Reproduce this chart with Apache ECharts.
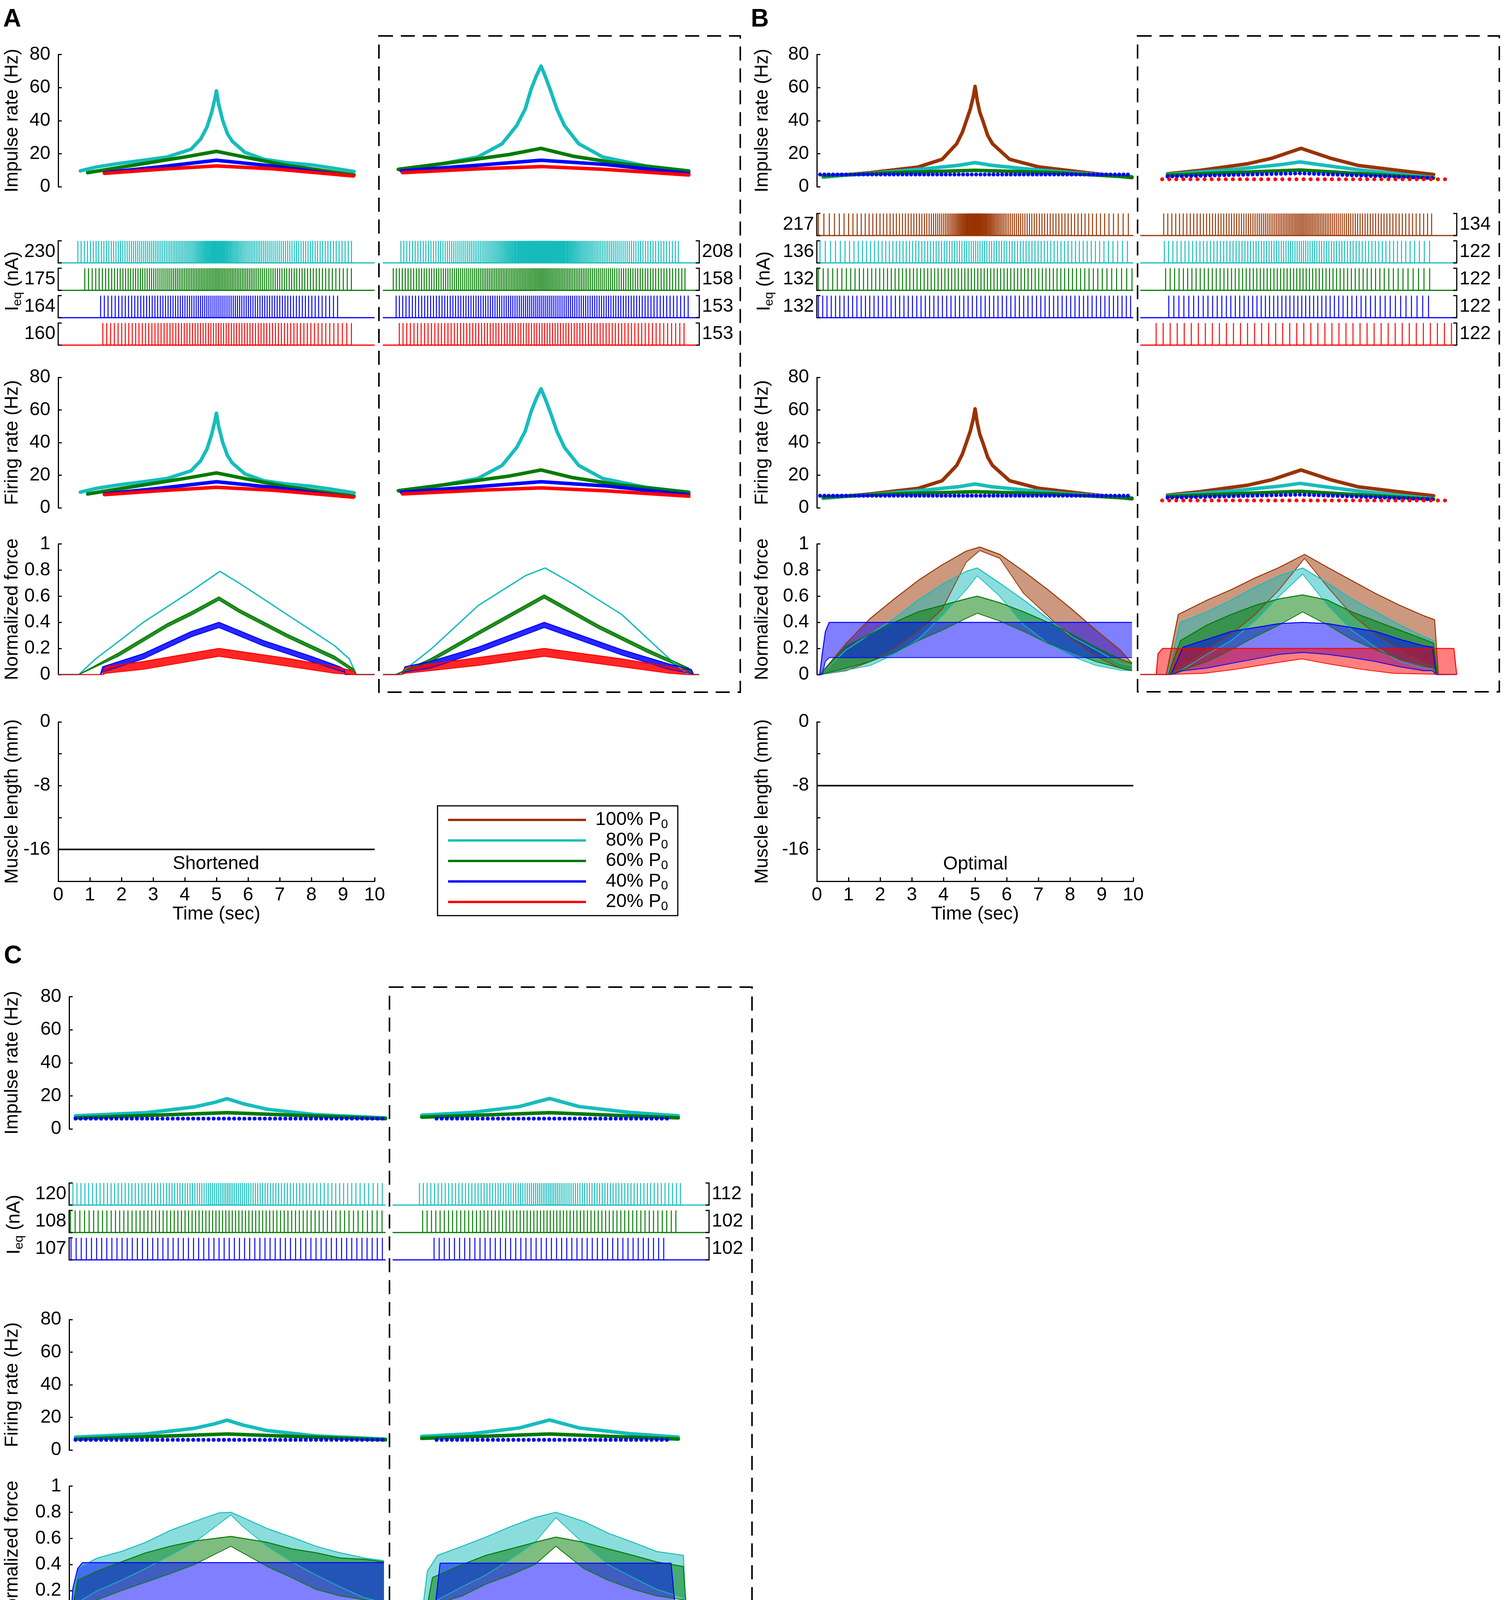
<!DOCTYPE html>
<html>
<head>
<meta charset="utf-8">
<script src="https://cdn.jsdelivr.net/npm/echarts/dist/echarts.min.js"></script>
<style>
html, body { margin: 0; padding: 0; background: #fff; }
#chart { width: 3850px; height: 4778px; }
</style>
</head>
<body>
<div id="chart"></div>
<script>
var FONT = '"Liberation Sans", Arial, Helvetica, sans-serif';
// 100%, 80%, 60%, 40%, 20% P0
var COLORS = ['#993300', '#17bcbc', '#007a00', '#0000ff', '#ff0000'];
var LEVELS = ['100%', '80%', '60%', '40%', '20%'];

// impulse / firing rate curves, [time (s), rate (Hz)]
var rateAL80 = [[0.7,9.6],[1.2,11.9],[1.9,14],[2.7,16],[3.45,18],[4.2,22.7],[4.5,28.8],[4.7,36],[4.85,45],[4.95,53],[5.0,58],[5.07,50],[5.2,40],[5.35,32],[5.5,27.5],[5.9,20.8],[6.5,16.6],[7.2,14.6],[8.0,13.2],[8.7,11.2],[9.35,9.2]];
var rateAL60 = [[0.93,8.5],[2.7,14],[4.0,18],[5.0,21.4],[6.0,17.5],[7.2,13],[8.3,10],[9.35,7.1]];
var rateAL40 = [[1.46,8.5],[3.2,12],[5.0,16],[6.8,12.5],[8.97,7.1]];
var rateAL20 = [[1.46,8.1],[3.2,10.5],[5.0,12.6],[6.8,10.8],[9.33,6.5]];
var rateAR80 = [[0.49,10.5],[1.5,12.6],[3.0,18],[3.77,26],[4.23,37],[4.5,47],[4.68,58.7],[4.85,67],[5.0,73],[5.15,66],[5.29,58.7],[5.5,47],[5.74,37],[6.19,26],[6.95,18],[8.3,12.6],[9.67,9.5]];
var rateAR60 = [[0.49,10.5],[2.5,15.5],[4.0,19.5],[5.0,23.2],[6.0,18.5],[7.5,14],[9.67,9.5]];
var rateAR40 = [[0.58,9.6],[3.0,13],[5.0,16],[7.0,13.5],[9.67,8.0]];
var rateAR20 = [[0.62,8.5],[3.0,10.8],[5.0,12.2],[7.0,10.5],[9.67,7.1]];

var rateBL100 = [[0.2,5.8],[1.69,8.5],[3.2,11.9],[3.96,16.6],[4.42,26],[4.6,33],[4.72,39.7],[4.85,47],[4.95,55],[5.0,60.7],[5.07,52],[5.15,45],[5.25,39.7],[5.4,31],[5.55,26],[6.09,16.6],[7.0,12],[8.52,8.5],[9.96,5.5]];
var rateBL80 = [[0.2,6],[2,8.5],[3.5,11],[4.5,13],[5.0,14.6],[5.5,13],[6.5,11],[8,8.5],[9.96,6]];
var rateBL60 = [[0.2,6.6],[2.5,8.5],[5.0,9.9],[7.5,8.5],[9.96,5.8]];
var rateBL40 = [[0.1,7.4],[9.96,7.4]];
var rateBR100 = [[0.86,7.8],[1.88,9.9],[3.4,13.9],[4.17,17.3],[5.08,23.2],[6.0,17.3],[6.9,12.8],[8.43,9.2],[9.27,7.4]];
var rateBR80 = [[0.86,7.4],[3.0,10.5],[4.5,13.5],[5.05,15],[5.6,13.5],[7.0,10],[9.27,5.5]];
var rateBR60 = [[0.86,7],[5.05,10.1],[9.27,5.2]];
var rateBR40 = [[0.86,6.2],[5.05,8.1],[9.27,5.2]];
var rateBR20 = [[0.69,4.5],[9.85,4.5]];

var rateCL80 = [[0.2,7.9],[2.42,9.8],[3.96,13.3],[4.57,15.9],[4.99,18.3],[5.49,15.3],[6.26,11.9],[7.8,8.6],[10.0,6.7]];
var rateCL60 = [[0.2,6.7],[5.0,9.8],[10,6.2]];
var rateCL40 = [[0.2,6.2],[10,6.2]];
var rateCR80 = [[0.92,8.3],[2.5,10],[4.0,13.5],[4.96,18.4],[5.9,13.5],[7.5,10],[9.03,7.9]];
var rateCR60 = [[0.92,7.1],[4.96,9.8],[9.03,6.7]];
var rateCR40 = [[1.39,6.2],[8.72,6.2]];

// normalized force, [time (s), upper envelope, lower envelope]
var forceAL80 = [[0,0,0],[0.65,0,0],[1.18,0.12,0.11],[1.94,0.26,0.25],[2.69,0.40,0.39],[3.45,0.52,0.51],[4.21,0.64,0.63],[4.81,0.74,0.73],[5.11,0.79,0.78],[5.72,0.70,0.69],[6.48,0.58,0.57],[7.23,0.46,0.45],[7.99,0.34,0.33],[8.74,0.22,0.21],[9.2,0.12,0.11],[9.42,0,0],[10,0,0]];
var forceAL60 = [[0,0,0],[0.65,0,0],[1.94,0.17,0.145],[3.45,0.39,0.365],[4.21,0.48,0.455],[5.08,0.595,0.57],[5.72,0.5,0.475],[7.23,0.31,0.285],[8.74,0.14,0.115],[9.35,0.04,0.02],[9.42,0,0],[10,0,0]];
var forceAL40 = [[0,0,0],[1.33,0,0],[1.41,0.06,0.02],[2.69,0.16,0.12],[4.21,0.33,0.29],[5.08,0.40,0.36],[6.48,0.26,0.22],[7.99,0.14,0.10],[8.9,0.06,0.03],[9.04,0.04,0.02],[9.07,0,0],[10,0,0]];
var forceAL20 = [[0,0,0],[1.41,0,0],[1.5,0.06,0.01],[2.69,0.10,0.04],[5.08,0.20,0.14],[7.23,0.125,0.065],[8.74,0.06,0.01],[9.3,0.03,0],[9.42,0,0],[10,0,0]];
var forceAR80 = [[0,0,0],[0.5,0,0],[1.5,0.19,0.18],[3.02,0.53,0.52],[4.53,0.76,0.75],[5.13,0.816,0.806],[6.04,0.69,0.68],[7.55,0.46,0.45],[9.06,0.12,0.11],[9.5,0.03,0.02],[9.67,0,0],[10,0,0]];
var forceAR60 = [[0,0,0],[0.4,0,0],[1.5,0.12,0.095],[3.02,0.33,0.305],[5.1,0.61,0.585],[6.8,0.38,0.355],[8.31,0.2,0.175],[9.67,0.05,0.03],[9.75,0,0],[10,0,0]];
var forceAR40 = [[0,0,0],[0.6,0,0],[0.7,0.06,0.02],[1.5,0.1,0.05],[3.02,0.21,0.17],[5.1,0.4,0.36],[7.55,0.19,0.15],[9.06,0.08,0.04],[9.75,0.04,0.01],[9.82,0,0],[10,0,0]];
var forceAR20 = [[0,0,0],[0.6,0,0],[0.7,0.05,0.01],[1.5,0.08,0.03],[3.02,0.13,0.07],[5.1,0.2,0.14],[7.55,0.12,0.06],[9.06,0.06,0.01],[9.6,0.03,0],[9.7,0,0],[10,0,0]];

var forceBL100 = [[0,0,0],[0.1,0,0],[0.93,0.24,0.03],[1.69,0.43,0.1],[2.45,0.58,0.2],[3.2,0.72,0.33],[3.96,0.84,0.5],[4.72,0.945,0.86],[5.15,0.976,0.95],[5.78,0.92,0.89],[6.54,0.79,0.62],[7.3,0.65,0.45],[8.06,0.5,0.27],[8.82,0.34,0.14],[9.58,0.19,0.05],[9.96,0.086,0.03]];
var forceBL80 = [[0,0,0],[0.1,0,0],[0.93,0.19,0.034],[1.69,0.31,0.07],[2.45,0.43,0.155],[3.2,0.57,0.27],[3.96,0.69,0.45],[4.72,0.79,0.65],[5.07,0.816,0.756],[5.78,0.7,0.6],[6.54,0.57,0.38],[7.3,0.43,0.24],[8.06,0.29,0.14],[8.82,0.19,0.07],[9.58,0.086,0.034],[9.96,0.07,0.03]];
var forceBL60 = [[0,0,0],[0.1,0,0],[0.93,0.22,0.05],[1.69,0.31,0.1],[2.45,0.4,0.17],[3.2,0.48,0.26],[3.96,0.53,0.34],[4.72,0.58,0.43],[5.07,0.6,0.47],[5.78,0.55,0.41],[6.54,0.48,0.33],[7.3,0.4,0.24],[8.06,0.31,0.17],[8.82,0.21,0.1],[9.58,0.12,0.05],[9.96,0.086,0.03]];
var forceBL40 = [[0,0,0],[0.09,0,0],[0.17,0.16,0],[0.27,0.33,0.1],[0.39,0.4,0.13],[9.96,0.4,0.13]];
var forceBR100 = [[0,0,0],[0.82,0,0],[1.2,0.46,0.05],[2.11,0.57,0.19],[2.87,0.65,0.31],[3.63,0.74,0.46],[4.39,0.82,0.65],[5.19,0.92,0.89],[5.92,0.82,0.67],[6.68,0.72,0.46],[7.44,0.62,0.31],[8.2,0.53,0.19],[8.96,0.45,0.1],[9.3,0.42,0.07],[9.42,0,0],[10,0,0]];
var forceBR80 = [[0,0,0],[0.86,0,0],[1.27,0.4,0.03],[2.11,0.48,0.155],[2.87,0.57,0.26],[3.63,0.67,0.41],[4.39,0.756,0.6],[5.13,0.816,0.77],[5.92,0.7,0.53],[6.68,0.58,0.34],[7.44,0.48,0.21],[8.2,0.38,0.1],[8.96,0.29,0.05],[9.27,0.26,0.04],[9.39,0,0],[10,0,0]];
var forceBR60 = [[0,0,0],[0.89,0,0],[1.27,0.26,0.03],[2.11,0.38,0.1],[2.87,0.46,0.19],[3.63,0.53,0.29],[4.39,0.58,0.38],[5.13,0.61,0.48],[5.92,0.57,0.38],[6.68,0.48,0.27],[7.44,0.41,0.19],[8.2,0.34,0.12],[8.96,0.27,0.07],[9.27,0.24,0.05],[9.39,0,0],[10,0,0]];
var forceBR40 = [[0,0,0],[0.97,0,0],[1.35,0.21,0.03],[2.11,0.27,0.05],[2.87,0.33,0.086],[3.63,0.36,0.12],[4.39,0.39,0.155],[5.13,0.4,0.17],[5.92,0.39,0.155],[6.68,0.36,0.13],[7.44,0.33,0.1],[8.2,0.27,0.06],[8.96,0.22,0.03],[9.24,0.21,0.03],[9.35,0,0],[10,0,0]];
var forceBR20 = [[0,0,0],[0.5,0,0],[0.56,0.16,0],[0.7,0.2,0],[2.0,0.2,0.01],[3.0,0.2,0.04],[4.0,0.2,0.08],[5.1,0.2,0.12],[6.0,0.2,0.08],[7.0,0.2,0.04],[8.0,0.2,0.01],[9.91,0.2,0],[10,0,0]];

var forceCL80 = [[0,0,0],[0.05,0,0],[0.27,0.37,0.11],[0.89,0.45,0.2],[1.65,0.5,0.28],[2.42,0.57,0.37],[3.19,0.66,0.47],[3.96,0.73,0.57],[4.73,0.795,0.71],[5.11,0.8,0.78],[5.49,0.76,0.69],[6.26,0.675,0.54],[7.03,0.61,0.42],[7.8,0.54,0.32],[8.56,0.49,0.23],[9.33,0.45,0.145],[9.95,0.43,0.11]];
var forceCL60 = [[0,0,0],[0.05,0,0],[0.27,0.28,0.08],[0.89,0.35,0.13],[1.65,0.42,0.2],[2.42,0.49,0.265],[3.19,0.54,0.33],[3.96,0.58,0.4],[5.11,0.615,0.54],[6.26,0.57,0.385],[7.03,0.52,0.3],[7.8,0.49,0.21],[8.56,0.45,0.16],[9.33,0.44,0.13],[9.95,0.42,0.11]];
var forceCL40 = [[0,0,0],[0.05,0,0],[0.12,0.22,0],[0.27,0.37,0.08],[0.42,0.415,0.1],[9.95,0.415,0.1]];
var forceCR80 = [[0,0,0],[0.92,0,0],[1.1,0.35,0.05],[1.42,0.47,0.13],[2.2,0.54,0.23],[2.95,0.61,0.32],[3.73,0.69,0.44],[4.5,0.76,0.57],[5.16,0.8,0.76],[6.04,0.73,0.56],[6.81,0.64,0.4],[7.6,0.57,0.3],[8.34,0.5,0.21],[9.19,0.47,0.145],[9.27,0,0],[10,0,0]];
var forceCR60 = [[0,0,0],[1.03,0,0],[1.26,0.3,0.09],[2.2,0.4,0.16],[2.95,0.47,0.25],[3.73,0.52,0.32],[4.5,0.57,0.4],[5.16,0.61,0.54],[6.04,0.57,0.37],[6.81,0.52,0.28],[7.6,0.47,0.21],[8.34,0.42,0.16],[9.19,0.385,0.13],[9.3,0,0],[10,0,0]];
var forceCR40 = [[0,0,0],[1.31,0,0],[1.5,0.41,0.094],[8.8,0.41,0.094],[8.96,0,0],[10,0,0]];

// spike train extents [first spike, last spike] (s), per row
var spikesAL = [[0.62,9.32],[0.84,9.35],[1.34,8.92],[1.41,9.29]];
var spikesAR = [[0.57,9.34],[0.33,9.55],[0.42,9.7],[0.52,9.6]];
var spikesBL = [[0.05,9.99],[0.1,9.96],[0.05,9.96],[0.05,9.96]];
var spikesBR = [[0.74,9.27],[0.76,9.2],[0.8,9.24],[0.9,9.24],[0.5,9.9]];
var spikesCL = [[0.12,9.95],[0.04,9.99],[0.06,9.95]];
var spikesCR = [[0.85,9.1],[0.95,9.03],[1.31,8.72]];

// Ieq threshold labels (nA)
var ieqAL = ['230','175','164','160'];
var ieqAR = ['208','158','153','153'];
var ieqBL = ['217','136','132','132'];
var ieqBR = ['134','122','122','122','122'];
var ieqCL = ['120','108','107'];
var ieqCR = ['112','102','102'];

// muscle length (mm)
var lengthA = [[0,-16],[10,-16]];
var lengthB = [[0,-8],[10,-8]];
var lengthC = [[0,0],[10,0]];

var panels = [
  {letter: 'A', letterPos: [8, 18], lx: 149, rx: 980, y0: 0, gap: 93, box: [970, 92, 925, 1680],
   ieqTitle: [33, 720], note: 'Shortened', notePos: [553, 2212], length: lengthA, opacity: 0.85,
   columns: [
     {side: 'L', levels: [1,2,3,4], rates: [rateAL80, rateAL60, rateAL40, rateAL20], dots: [0,0,0,0],
      forces: [forceAL80, forceAL60, forceAL40, forceAL20], thin: [true,false,false,false], spikes: spikesAL, labels: ieqAL},
     {side: 'R', levels: [1,2,3,4], rates: [rateAR80, rateAR60, rateAR40, rateAR20], dots: [0,0,0,0],
      forces: [forceAR80, forceAR60, forceAR40, forceAR20], thin: [true,false,false,false], spikes: spikesAR, labels: ieqAR}
   ]},
  {letter: 'B', letterPos: [1922, 18], lx: 2091, rx: 2919, y0: 0, gap: 115, box: [2912, 92, 926, 1679],
   ieqTitle: [1957, 720], note: 'Optimal', notePos: [2497, 2213], length: lengthB, opacity: 0.5,
   columns: [
     {side: 'L', levels: [0,1,2,3], rates: [rateBL100, rateBL80, rateBL60, rateBL40], dots: [0,0,0,11],
      forces: [forceBL100, forceBL80, forceBL60, forceBL40], thin: [false,false,false,false], spikes: spikesBL, labels: ieqBL},
     {side: 'R', levels: [0,1,2,3,4], rates: [rateBR100, rateBR80, rateBR60, rateBR40, rateBR20], dots: [0,0,0,12,18],
      forces: [forceBR100, forceBR80, forceBR60, forceBR40, forceBR20], thin: [false,false,false,false,false], spikes: spikesBR, labels: ieqBR}
   ]},
  {letter: 'C', letterPos: [10, 2416], lx: 177, rx: 1005, y0: 2412, gap: 121, box: [997, 2527, 928, 1677],
   ieqTitle: [37, 3135], note: 'Lengthened', notePos: [555, 4632], length: lengthC, opacity: 0.5,
   columns: [
     {side: 'L', levels: [1,2,3], rates: [rateCL80, rateCL60, rateCL40], dots: [0,0,13],
      forces: [forceCL80, forceCL60, forceCL40], thin: [false,false,false], spikes: spikesCL, labels: ieqCL},
     {side: 'R', levels: [1,2,3], rates: [rateCR80, rateCR60, rateCR40], dots: [0,0,13],
      forces: [forceCR80, forceCR60, forceCR40], thin: [false,false,false], spikes: spikesCR, labels: ieqCR}
   ]}
];

var ROW_H = 0.806; // spike height as a fraction of one Ieq row
var PLOT_W = 810;

var grids = [], xAxes = [], yAxes = [], series = [], graphics = [];

function rateAt(curve, t) {
  if (t <= curve[0][0]) return curve[0][1];
  for (var i = 1; i < curve.length; i++) {
    if (t <= curve[i][0]) {
      var a = curve[i - 1], b = curve[i];
      return a[1] + (b[1] - a[1]) * (t - a[0]) / (b[0] - a[0]);
    }
  }
  return curve[curve.length - 1][1];
}

// spikes follow the rate curve: each interval is 1 / rate
function spikeTimes(curve, span) {
  var out = [], t = span[0];
  while (t <= span[1] + 1e-6) {
    out.push(t);
    t += 1 / rateAt(curve, t);
  }
  return out;
}

function addGrid(left, top, height, yAxis, xAxis) {
  var i = grids.length;
  grids.push({left: left, top: top, width: PLOT_W, height: height});
  var xa = {type: 'value', gridIndex: i, min: 0, max: 10, show: false, splitLine: {show: false}};
  if (xAxis) for (var k in xAxis) xa[k] = xAxis[k];
  xAxes.push(xa);
  yAxis.type = 'value';
  yAxis.gridIndex = i;
  yAxes.push(yAxis);
  return i;
}

function leftY(min, max, interval, name, gap, fmt) {
  return {
    min: min, max: max, interval: interval,
    name: name, nameLocation: 'middle', nameGap: gap, nameRotate: 90,
    nameTextStyle: {fontSize: 48, fontFamily: FONT, color: '#000'},
    axisLine: {show: true, onZero: false, lineStyle: {color: '#000', width: 3}},
    axisTick: {show: true, inside: true, length: 9, lineStyle: {color: '#000', width: 3}},
    axisLabel: {fontSize: 48, fontFamily: FONT, color: '#000', margin: 20, formatter: fmt},
    splitLine: {show: false}
  };
}

function hiddenY(min, max, inverse) {
  return {min: min, max: max, inverse: !!inverse, show: false, splitLine: {show: false}};
}

function rateSeries(gi, data, color, dotGap) {
  return {
    type: 'line', xAxisIndex: gi, yAxisIndex: gi, data: data, symbol: 'none', silent: true,
    lineStyle: {color: color, width: dotGap ? 10 : 9, type: dotGap ? [0.1, dotGap] : 'solid', cap: 'round', join: 'round'}
  };
}

function envelopeLine(gi, trace, k, color, width) {
  return {
    type: 'line', xAxisIndex: gi, yAxisIndex: gi, symbol: 'none', silent: true,
    data: trace.map(function (p) { return [p[0], p[k]]; }),
    lineStyle: {color: color, width: width}
  };
}

// filled band between the lower and upper envelope of a force trace
function bandSeries(gi, trace, color, opacity) {
  return {
    type: 'custom', xAxisIndex: gi, yAxisIndex: gi, silent: true,
    data: trace,
    encode: {x: 0, y: [1, 2]},
    renderItem: function (params, api) {
      if (params.dataIndex !== 0) return null;
      var pts = [], i;
      for (i = 0; i < trace.length; i++) pts.push(api.coord([trace[i][0], trace[i][1]]));
      for (i = trace.length - 1; i >= 0; i--) pts.push(api.coord([trace[i][0], trace[i][2]]));
      return {type: 'polygon', shape: {points: pts}, style: {fill: color, opacity: opacity}};
    }
  };
}

function forceSeries(gi, trace, color, thin, opacity) {
  if (thin) return [envelopeLine(gi, trace, 1, color, 3.5)];
  return [bandSeries(gi, trace, color, opacity),
          envelopeLine(gi, trace, 2, color, 2),
          envelopeLine(gi, trace, 1, color, 2.5)];
}

function spikeSeries(gi, times, row, color) {
  return {
    type: 'custom', xAxisIndex: gi, yAxisIndex: gi, silent: true,
    data: times.map(function (t) { return [t, row]; }),
    encode: {x: 0, y: 1},
    renderItem: function (params, api) {
      var a = api.coord([api.value(0), row]);
      var b = api.coord([api.value(0), row + ROW_H]);
      return {type: 'line', shape: {x1: a[0], y1: a[1], x2: b[0], y2: b[1]},
              style: {stroke: color, lineWidth: 2.5}};
    }
  };
}

function frameSeries(gi, levels, labels, side) {
  return {
    type: 'custom', xAxisIndex: gi, yAxisIndex: gi, silent: true, z: 1,
    data: levels.map(function (lv) { return [0, lv]; }),
    encode: {x: 0, y: 1},
    renderItem: function (params, api) {
      var row = api.value(1);
      var p0 = api.coord([0, row]), p1 = api.coord([10, row]);
      var top = p0[1], base = api.coord([0, row + ROW_H])[1];
      var bx = side === 'L' ? p0[0] : p1[0];
      var dir = side === 'L' ? 1 : -1;
      return {type: 'group', children: [
        {type: 'line', shape: {x1: p0[0], y1: base, x2: p1[0], y2: base},
         style: {stroke: COLORS[row], lineWidth: 3}},
        {type: 'polyline', shape: {points: [[bx + dir * 9, top], [bx, top], [bx, base], [bx + dir * 9, base]]},
         style: {stroke: '#000', lineWidth: 3, fill: null}},
        {type: 'text', x: bx - dir * 7, y: (top + base) / 2,
         style: {text: labels[params.dataIndex], fontSize: 48, fontFamily: FONT, fill: '#000',
                 align: side === 'L' ? 'right' : 'left', verticalAlign: 'middle'}}
      ]};
    }
  };
}

panels.forEach(function (p) {
  function Y(v) { return v + p.y0; }

  p.columns.forEach(function (col) {
    var isL = col.side === 'L';
    var left = isL ? p.lx : p.rx;
    var gi;

    // impulse rate
    gi = addGrid(left, Y(139.5), 338.5, isL ? leftY(0, 80, 20, 'Impulse rate (Hz)', p.gap) : hiddenY(0, 80));
    col.levels.forEach(function (lv, j) {
      series.push(rateSeries(gi, col.rates[j], COLORS[lv], col.dots[j]));
    });

    // Ieq spike trains
    gi = addGrid(left, Y(546.5), 350.5, hiddenY(0, 5, true));
    series.push(frameSeries(gi, col.levels, col.labels, col.side));
    col.levels.forEach(function (lv, j) {
      series.push(spikeSeries(gi, spikeTimes(col.rates[j], col.spikes[j]), lv, COLORS[lv]));
    });

    // firing rate
    gi = addGrid(left, Y(966), 334, isL ? leftY(0, 80, 20, 'Firing rate (Hz)', p.gap) : hiddenY(0, 80));
    col.levels.forEach(function (lv, j) {
      series.push(rateSeries(gi, col.rates[j], COLORS[lv], col.dots[j]));
    });

    // normalized force
    gi = addGrid(left, Y(1392.5), 334.5, isL ? leftY(0, 1, 0.2, 'Normalized force', p.gap) : hiddenY(0, 1));
    col.levels.forEach(function (lv, j) {
      forceSeries(gi, col.forces[j], COLORS[lv], col.thin[j], p.opacity)
        .forEach(function (s) { series.push(s); });
    });

    // muscle length (left column only)
    if (isL) {
      gi = addGrid(left, Y(1848), 408,
        leftY(-20, 0, 4, 'Muscle length (mm)', p.gap, function (v) { return v % 8 === 0 ? String(v) : ''; }),
        {show: true, interval: 1, name: 'Time (sec)', nameLocation: 'middle', nameGap: 58,
         nameTextStyle: {fontSize: 48, fontFamily: FONT, color: '#000'},
         axisLine: {show: true, onZero: false, lineStyle: {color: '#000', width: 3}},
         axisTick: {show: true, inside: true, length: 10, lineStyle: {color: '#000', width: 3}},
         axisLabel: {fontSize: 48, fontFamily: FONT, color: '#000', margin: 12}});
      series.push({type: 'line', xAxisIndex: gi, yAxisIndex: gi, data: p.length, symbol: 'none', silent: true,
                   lineStyle: {color: '#000', width: 4}});
    }
  });

  graphics.push({type: 'text', x: p.letterPos[0], y: p.letterPos[1],
    style: {text: p.letter, fontSize: 64, fontWeight: 'bold', fontFamily: FONT, fill: '#000'}});
  graphics.push({type: 'rect', shape: {x: p.box[0], y: p.box[1], width: p.box[2], height: p.box[3]},
    style: {fill: 'none', stroke: '#000', lineWidth: 4, lineDash: [36, 20]}});
  graphics.push({type: 'text', x: p.ieqTitle[0], y: p.ieqTitle[1], rotation: Math.PI / 2,
    style: {text: '{a|I}{b|eq}{a| (nA)}', align: 'center', verticalAlign: 'middle',
      rich: {a: {fontSize: 48, fontFamily: FONT, fill: '#000', lineHeight: 56},
             b: {fontSize: 32, fontFamily: FONT, fill: '#000', lineHeight: 30, verticalAlign: 'bottom'}}}});
  graphics.push({type: 'text', x: p.notePos[0], y: p.notePos[1],
    style: {text: p.note, fontSize: 48, fontFamily: FONT, fill: '#000', align: 'center', verticalAlign: 'middle'}});
});

// legend box
var legendItems = [];
legendItems.push({type: 'rect', shape: {x: 0, y: 0, width: 615, height: 281},
  style: {fill: '#fff', stroke: '#000', lineWidth: 3}});
LEVELS.forEach(function (name, i) {
  var y = 36 + i * 52.5;
  legendItems.push({type: 'line', shape: {x1: 27, y1: y, x2: 380, y2: y},
    style: {stroke: COLORS[i], lineWidth: 6}});
  legendItems.push({type: 'text', x: 590, y: y,
    style: {text: '{a|' + name + ' P}{b|0}', align: 'right', verticalAlign: 'middle',
      rich: {a: {fontSize: 48, fontFamily: FONT, fill: '#000', lineHeight: 56},
             b: {fontSize: 32, fontFamily: FONT, fill: '#000', lineHeight: 30, verticalAlign: 'bottom'}}}});
});
graphics.push({type: 'group', x: 1120, y: 2063, children: legendItems});

var chart = echarts.init(document.getElementById('chart'));
chart.setOption({
  animation: false,
  backgroundColor: '#fff',
  grid: grids,
  xAxis: xAxes,
  yAxis: yAxes,
  series: series,
  graphic: {elements: graphics}
});
</script>
</body>
</html>
